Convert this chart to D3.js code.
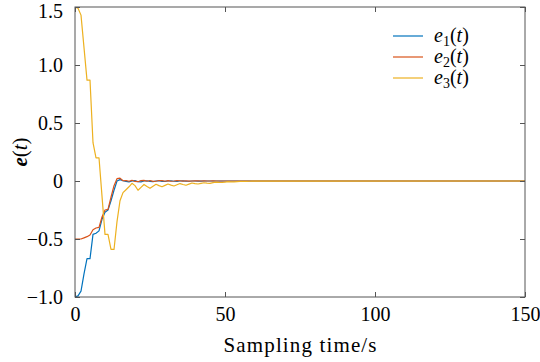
<!DOCTYPE html>
<html><head><meta charset="utf-8">
<script src="https://cdn.jsdelivr.net/npm/d3@7"></script>
<style>body{margin:0;background:#fff}svg{display:block}
svg text{font-family:"Liberation Serif","DejaVu Serif",serif;}
</style>
</head><body>
<svg id="c" width="540" height="362"></svg>
<script>
const times = [0,1,2,3,4,5,6,7,8,9,10,11,12,13,14,15,16,17,18,19,20,21,22,23,24,25,26,27,28,29,30,31,32,33,34,35,36,37,38,39,40,41,42,43,44,45,46,47,48,49,50,51,52,53,54,55,56,57,58,59,60,150];
const e1 = [-1.0,-0.99,-0.95,-0.8,-0.67,-0.67,-0.46,-0.45,-0.43,-0.33,-0.27,-0.25,-0.17,-0.08,0.0,0.012,0.002,-0.004,-0.008,0.0,0.003,-0.006,-0.008,0.0,0.002,-0.004,-0.006,0.0,0.002,-0.003,-0.004,0.0,0.001,-0.002,-0.003,0.0,0.001,-0.002,-0.002,0.0,0.0,-0.001,-0.001,0,0,0,0,0,0,0,0,0,0,0,0,0,0,0,0,0,0,0];
const e2 = [-0.5,-0.5,-0.5,-0.49,-0.48,-0.465,-0.42,-0.405,-0.4,-0.31,-0.25,-0.245,-0.14,-0.04,0.02,0.025,0.002,0.004,-0.002,0.006,-0.004,-0.006,0.004,0.005,-0.002,0.004,-0.003,-0.002,0.004,0.003,-0.002,0.003,-0.002,0.0,0.003,0.002,-0.001,0.002,-0.001,0.0,0.002,0.001,0,0.001,0,0,0.001,0,0,0,0,0,0,0,0,0,0,0,0,0,0,0];
const e3 = [1.5,1.49,1.43,1.15,0.87,0.87,0.33,0.2,0.2,-0.13,-0.46,-0.46,-0.59,-0.59,-0.35,-0.17,-0.1,-0.075,-0.05,-0.02,-0.04,-0.08,-0.055,-0.03,-0.048,-0.063,-0.045,-0.028,-0.04,-0.05,-0.038,-0.026,-0.035,-0.043,-0.032,-0.022,-0.03,-0.037,-0.027,-0.017,-0.022,-0.026,-0.02,-0.015,-0.018,-0.02,-0.014,-0.01,-0.012,-0.013,-0.009,-0.006,-0.007,-0.008,-0.005,-0.003,-0.004,-0.004,-0.002,-0.001,-0.001,0];
const xTicks = [0,50,100,150];
const yTicks = [-1.0,-0.5,0,0.5,1.0,1.5];
const yTickLabels = ["\u22121.0","\u22120.5","0","0.5","1.0","1.5"];
const seriesNames = ["1","2","3"];
const colors = ["#0072BD","#D95319","#EDB120"];

const svg = d3.select("#c");
const L=75, R=525, T=7, B=297;
const x = d3.scaleLinear().domain([0,150]).range([L,R]);
const y = d3.scaleLinear().domain([-1,1.5]).range([B,T]);
const axCol = "#555";

const series = [e1,e2,e3];
const line = d3.line().x((d,i)=>x(times[i])).y(d=>y(d));
svg.append("clipPath").attr("id","clp").append("rect").attr("x",L).attr("y",T).attr("width",R-L).attr("height",B-T);
series.forEach((s,k)=>{
  svg.append("path").datum(s).attr("d",line).attr("fill","none")
    .attr("stroke",colors[k]).attr("stroke-width",1.2).attr("stroke-linejoin","round")
    .attr("clip-path","url(#clp)");
});

const ax = (g)=>{g.selectAll(".domain").remove(); g.selectAll("line").attr("stroke",axCol); g.attr("font-family",null);};
svg.append("g").attr("transform",`translate(0,${B})`)
  .call(d3.axisBottom(x).tickValues(xTicks).tickSize(-5).tickPadding(10).tickFormat(d3.format("d")))
  .call(ax).selectAll("text").attr("font-size",20).attr("fill","#000");
svg.append("g").attr("transform",`translate(0,${T})`)
  .call(d3.axisTop(x).tickValues(xTicks).tickSize(-5).tickFormat(()=>""))
  .call(ax);
const yax = svg.append("g").attr("transform",`translate(${L},0)`)
  .call(d3.axisLeft(y).tickValues(yTicks).tickSize(-5).tickPadding(12).tickFormat((d,i)=>yTickLabels[i]))
  .call(ax);
yax.selectAll("text").attr("font-size",20).attr("fill","#000")
  .attr("dy",(d)=> d===1.5 ? "0.5em" : "0.32em");
svg.append("g").attr("transform",`translate(${R},0)`)
  .call(d3.axisRight(y).tickValues(yTicks).tickSize(-5).tickFormat(()=>""))
  .call(ax);
svg.append("rect").attr("x",L).attr("y",T).attr("width",R-L).attr("height",B-T)
  .attr("fill","none").attr("stroke",axCol).attr("stroke-width",1);

svg.append("text").attr("x",(L+R)/2).attr("y",352).attr("text-anchor","middle")
  .attr("font-size",21).attr("textLength",153).attr("lengthAdjust","spacing")
  .text("Sampling time/s");

const yl = svg.append("text").attr("transform",`translate(27,${(T+B)/2}) rotate(-90)`)
  .attr("text-anchor","middle").attr("font-size",21);
yl.append("tspan").attr("font-weight","bold").attr("font-style","italic").text("e");
yl.append("tspan").text("(");
yl.append("tspan").attr("font-style","italic").text("t");
yl.append("tspan").text(")");

const lg = svg.append("g");
seriesNames.forEach((n,k)=>{
  const yy = 36 + k*21;
  lg.append("line").attr("x1",393).attr("x2",423).attr("y1",yy).attr("y2",yy)
    .attr("stroke",colors[k]).attr("stroke-width",1.2);
  const t = lg.append("text").attr("x",434).attr("y",yy+6).attr("font-size",20);
  t.append("tspan").attr("font-style","italic").text("e");
  t.append("tspan").attr("font-size",14).attr("dy",4).text(n);
  t.append("tspan").attr("dy",-4).text("(");
  t.append("tspan").attr("font-style","italic").text("t");
  t.append("tspan").text(")");
});
</script>
</body></html>
